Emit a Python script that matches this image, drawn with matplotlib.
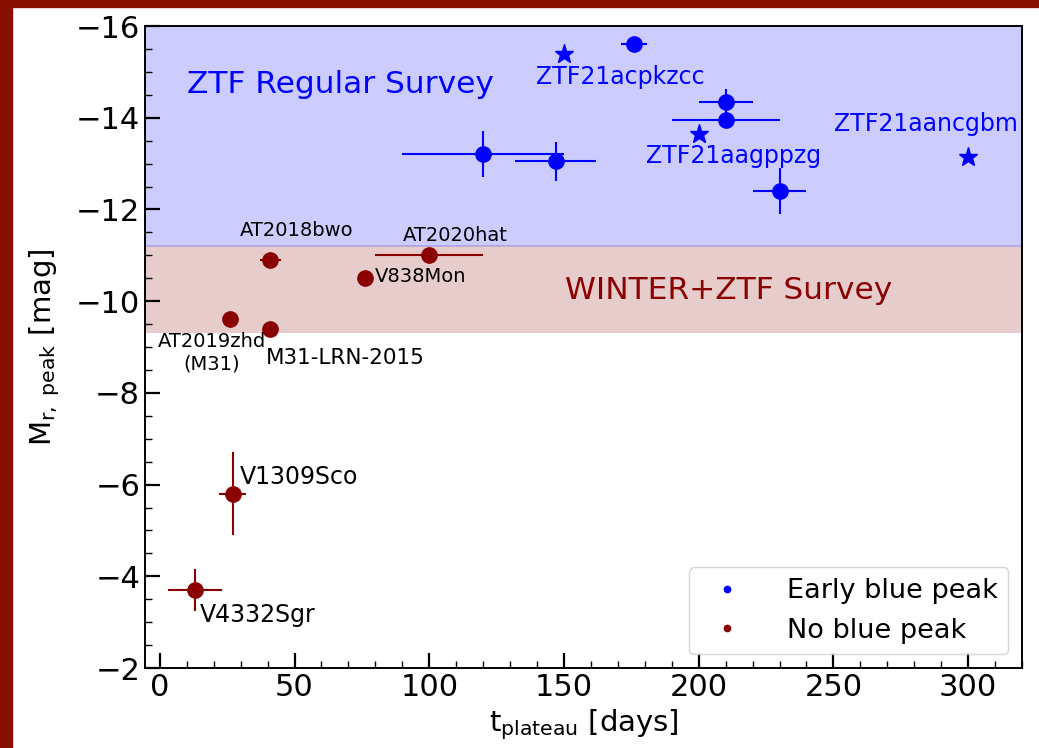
import matplotlib
matplotlib.use("Agg")
import matplotlib.pyplot as plt
from matplotlib.patches import Rectangle
from matplotlib.ticker import MultipleLocator

# --- Early blue peak events with error bars ---
blue_t = [120, 147, 176, 210, 210, 230]
blue_t_err = [30, 15, 5, 10, 20, 10]
blue_m = [-13.2, -13.05, -15.6, -14.35, -13.95, -12.4]
blue_m_err = [0.5, 0.42, 0.1, 0.28, 0.0, 0.5]

# --- Early blue peak events without error bars (stars) ---
star_names = ["ZTF21acpkzcc", "ZTF21aagppzg", "ZTF21aancgbm"]
star_t = [150, 200, 300]
star_m = [-15.4, -13.65, -13.15]

# --- Events without a blue peak ---
red_names = ["AT2018bwo", "AT2020hat", "V838Mon", "AT2019zhd\n(M31)",
             "M31-LRN-2015", "V1309Sco", "V4332Sgr"]
red_t = [41, 100, 76, 26, 41, 27, 13]
red_t_err = [4, 20, 0, 0, 0, 5, 10]
red_m = [-10.9, -11.0, -10.5, -9.6, -9.4, -5.8, -3.7]
red_m_err = [0.0, 0.0, 0.0, 0.0, 0.12, 0.9, 0.45]

# survey depth bands
ztf_band = (-16, -11.2)
winter_band = (-11.2, -9.3)

BLUE = "blue"
RED = "#8b0000"

fig = plt.figure(figsize=(10.39, 7.48), dpi=100)
# frame strips
fig.patches.append(Rectangle((0, 0), 12 / 1039, 1, transform=fig.transFigure,
                             color="#881000", zorder=0))
fig.patches.append(Rectangle((0, 1 - 7 / 748), 1, 7 / 748, transform=fig.transFigure,
                             color="#881000", zorder=0))

ax = fig.add_axes([145 / 1039, 80 / 748, 877 / 1039, 642 / 748])

ax.axhspan(*ztf_band, color=BLUE, alpha=0.2, lw=1.2)
ax.axhspan(*winter_band, color=RED, alpha=0.2, lw=0)

ax.errorbar(blue_t, blue_m, xerr=blue_t_err, yerr=blue_m_err, fmt="o",
            color=BLUE, ms=11, elinewidth=1.5, capsize=0)
ax.plot(star_t, star_m, "*", color=BLUE, ms=14, ls="none")
ax.errorbar(red_t, red_m, xerr=red_t_err, yerr=red_m_err, fmt="o",
            color=RED, ms=11, elinewidth=1.5, capsize=0)

# legend handles
ax.plot([], [], ".", color=BLUE, ms=7, label="Early blue peak")
ax.plot([], [], ".", color=RED, ms=7, label="No blue peak")

# region captions
ax.text(10, -14.73, "ZTF Regular Survey", color=BLUE, fontsize=22.5,
        va="center", ha="left")
ax.text(150.4, -10.24, "WINTER+ZTF Survey", color=RED, fontsize=22.5,
        va="center", ha="left")

# star labels
star_pos = [(171, -14.89, "center"), (212.8, -13.16, "center"),
            (284.5, -13.86, "center")]
for name, (tx, ty, ha) in zip(star_names, star_pos):
    ax.text(tx, ty, name, color=BLUE, fontsize=17, ha=ha, va="center")

# labels for events without blue peak
red_pos = [(50.9, -11.55, "center", 14), (109.5, -11.44, "center", 14),
           (79.8, -10.54, "left", 14), (19.3, -8.88, "center", 14),
           (69, -8.77, "center", 15.5), (29.8, -6.17, "left", 17),
           (14.9, -3.15, "left", 17)]
for name, (tx, ty, ha, fs) in zip(red_names, red_pos):
    ax.text(tx, ty, name, color="black", fontsize=fs, ha=ha, va="center",
            multialignment="center")

ax.set_xlim(-5.5, 320)
ax.set_ylim(-2, -16)

ax.xaxis.set_major_locator(MultipleLocator(50))
ax.xaxis.set_minor_locator(MultipleLocator(10))
ax.yaxis.set_major_locator(MultipleLocator(2))
ax.yaxis.set_minor_locator(MultipleLocator(0.5))
ax.tick_params(which="both", direction="in", top=False, right=False,
               labelsize=22)
ax.tick_params(which="major", length=11, width=1.6)
ax.tick_params(which="minor", length=5, width=1.0)
for s in ax.spines.values():
    s.set_linewidth(1.4)

ax.set_xlabel(r"t$_{\mathrm{plateau}}$ [days]", fontsize=21)
ax.set_ylabel(r"M$_{\mathrm{r,\ peak}}$ [mag]", fontsize=21, labelpad=10)

ax.legend(loc="lower right", fontsize=19.5, markerscale=1.3, handletextpad=1.2,
          borderaxespad=0.5)

fig.savefig("out.png", dpi=100)
